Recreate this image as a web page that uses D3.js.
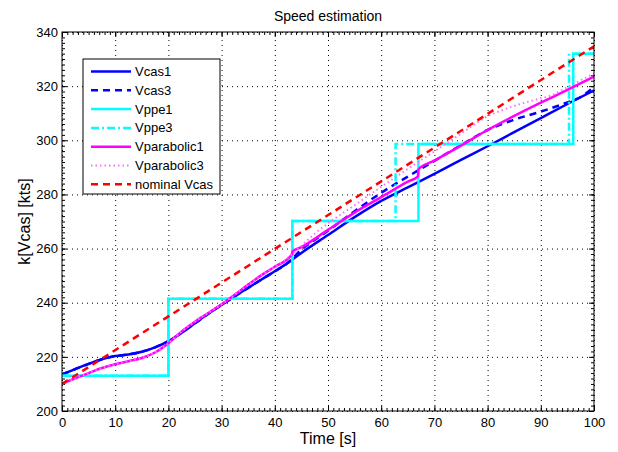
<!DOCTYPE html>
<html>
<head>
<meta charset="utf-8">
<script src="https://cdn.jsdelivr.net/npm/d3@7"></script>
<style>
body { margin: 0; background: #fff; }
text { font-family: "Liberation Sans", Arial, sans-serif; fill: #000; }
.grid line { stroke: #000; stroke-width: 1; stroke-dasharray: 1,4; }
.tick line { stroke: #000; }
.domain { display: none; }
</style>
</head>
<body>
<div id="chart"></div>
<script>
// values: time [s] / speed [kts]
var xTicks = [0, 10, 20, 30, 40, 50, 60, 70, 80, 90, 100];
var yTicks = [200, 220, 240, 260, 280, 300, 320, 340];

var vcas1T = [0, 2.5, 5, 7.5, 10, 12.5, 15, 17.5, 20, 22.5, 25, 27.5, 30, 32.5, 35, 37.5, 40, 42.5, 45, 50, 55, 60, 65, 70, 75, 80, 85, 90, 95, 100];
var vcas1V = [213.5, 215.5, 217.4, 219.1, 220.3, 220.9, 221.9, 223.5, 225.8, 228.9, 232.4, 235.9, 239.2, 242.4, 245.5, 248.6, 251.6, 254.8, 258.4, 265.0, 271.6, 277.6, 282.6, 287.6, 292.8, 297.8, 303.0, 308.2, 313.4, 318.4];

var vcas3T = [0, 2.5, 5, 7.5, 10, 12.5, 15, 17.5, 20, 22.5, 25, 27.5, 30, 32.5, 35, 37.5, 40, 42.5, 45, 47.5, 50, 55, 60, 65, 70, 75, 80, 85, 90, 95, 97.5, 100];
var vcas3V = [213.5, 215.5, 217.4, 219.1, 220.3, 220.9, 221.9, 223.5, 225.8, 228.9, 232.4, 235.9, 239.2, 242.4, 245.5, 248.6, 251.6, 254.8, 259.6, 263.2, 266.6, 273.8, 280.6, 286.6, 292.4, 298.2, 303.8, 307.6, 310.6, 314.0, 316.0, 319.8];

var vppe1T = [0, 20, 20, 43.3, 43.3, 67, 67, 96.1, 96.1, 100];
var vppe1V = [213, 213, 241.5, 241.5, 270.2, 270.2, 298.6, 298.6, 332, 332];

var vppe3T = [0, 20, 20, 43.3, 43.3, 62.7, 62.7, 95.3, 95.3, 100];
var vppe3V = [213, 213, 241.5, 241.5, 270.2, 270.2, 298.6, 298.6, 332, 332];

var vpar1T = [0, 2.5, 5, 7.5, 10, 12.5, 15, 17.5, 20, 22.5, 25, 27.5, 30, 32.5, 35, 37.5, 40, 43.2, 43.3, 45, 50, 55, 60, 65, 66.9, 67, 70, 75, 80, 85, 90, 95, 100];
var vpar1V = [210, 212.1, 214.0, 215.9, 217.3, 218.4, 219.6, 221.6, 225.0, 229.4, 233.0, 236.2, 239.4, 243.0, 246.7, 250.2, 253.3, 257.8, 258.8, 260.5, 266.9, 273.3, 279.0, 284.7, 286.7, 289.3, 292.5, 298.0, 303.8, 309.0, 313.9, 318.6, 323.5];

var vpar3T = [0, 2.5, 5, 7.5, 10, 12.5, 15, 17.5, 20, 22.5, 25, 27.5, 30, 32.5, 35, 37.5, 40, 43.2, 45, 47.5, 50, 55, 60, 65, 70, 75, 80, 83, 86, 89, 92, 95, 100];
var vpar3V = [210, 212.1, 214.0, 215.9, 217.3, 218.4, 219.6, 221.6, 225.0, 229.4, 233.0, 236.2, 239.4, 243.0, 246.7, 250.2, 253.3, 257.8, 261.0, 265.5, 269.3, 276.0, 282.8, 289.4, 295.9, 302.4, 308.9, 311.3, 313.3, 315.0, 316.6, 319.6, 324.7];

var nomT = [0, 100];
var nomV = [210, 334.7];

var margin = {top: 32, right: 24, bottom: 41, left: 62};
var width = 618 - margin.left - margin.right;
var height = 452 - margin.top - margin.bottom;

var xScale = d3.scaleLinear().domain([0, 100]).range([0, width]),
    yScale = d3.scaleLinear().domain([200, 340]).range([height, 0]);

var svg = d3.select("#chart").append("svg")
    .attr("width", 618)
    .attr("height", 452)
  .append("g")
    .attr("transform", "translate(" + margin.left + "," + margin.top + ")");

// dotted grid
svg.append("g").attr("class", "grid")
   .attr("transform", "translate(0," + height + ")")
   .call(d3.axisBottom(xScale).tickValues(xTicks).tickSize(-height).tickFormat(""));
svg.append("g").attr("class", "grid")
   .call(d3.axisLeft(yScale).tickValues(yTicks).tickSize(-width).tickFormat(""));

// minor ticks on all four sides
svg.append("g").attr("transform", "translate(0," + height + ")")
   .call(d3.axisBottom(xScale).tickValues(d3.range(0, 101, 1)).tickSize(-3).tickFormat(""));
svg.append("g")
   .call(d3.axisTop(xScale).tickValues(d3.range(0, 101, 1)).tickSize(-3).tickFormat(""));
svg.append("g")
   .call(d3.axisLeft(yScale).tickValues(d3.range(200, 341, 2)).tickSize(-3).tickFormat(""));
svg.append("g").attr("transform", "translate(" + width + ",0)")
   .call(d3.axisRight(yScale).tickValues(d3.range(200, 341, 2)).tickSize(-3).tickFormat(""));

// major ticks + labels
var xAxis = d3.axisBottom(xScale).tickValues(xTicks).tickSizeInner(-5).tickSizeOuter(0).tickPadding(7),
    yAxis = d3.axisLeft(yScale).tickValues(yTicks).tickSizeInner(-5).tickSizeOuter(0).tickPadding(4);

var xx = svg.append("g").attr("transform", "translate(0," + height + ")").call(xAxis);
var yy = svg.append("g").call(yAxis);
svg.append("g").call(d3.axisTop(xScale).tickValues(xTicks).tickSize(-5).tickFormat(""));
svg.append("g").attr("transform", "translate(" + width + ",0)")
   .call(d3.axisRight(yScale).tickValues(yTicks).tickSize(-5).tickFormat(""));
svg.selectAll(".tick text").style("font-size", "13px");

var series = [
  {name: "Vcas1", t: vcas1T, v: vcas1V, color: "#0000ff", dash: null, w: 2.5, smooth: true},
  {name: "Vcas3", t: vcas3T, v: vcas3V, color: "#0000ff", dash: "7,5", w: 2.5, smooth: true},
  {name: "Vppe1", t: vppe1T, v: vppe1V, color: "#00ffff", dash: null, w: 2.5, smooth: false},
  {name: "Vppe3", t: vppe3T, v: vppe3V, color: "#00ffff", dash: "8,3,2,3", w: 2.5, smooth: false},
  {name: "Vparabolic1", t: vpar1T, v: vpar1V, color: "#ff00ff", dash: null, w: 2.5, smooth: true},
  {name: "Vparabolic3", t: vpar3T, v: vpar3V, color: "#ff70ff", dash: "1.5,3", w: 2, smooth: true},
  {name: "nominal Vcas", t: nomT, v: nomV, color: "#ff0000", dash: "7,5", w: 2.5, smooth: false}
];

svg.append("defs").append("clipPath").attr("id", "plotclip")
   .append("rect").attr("width", width).attr("height", height);

var lines = svg.append("g").attr("clip-path", "url(#plotclip)");
series.forEach(function(s) {
  var pts = s.t.map(function(t, i) { return [t, s.v[i]]; });
  var line = d3.line()
      .x(function(d) { return xScale(d[0]); })
      .y(function(d) { return yScale(d[1]); })
      .curve(s.smooth ? d3.curveMonotoneX : d3.curveLinear);
  lines.append("path")
       .attr("d", line(pts))
       .attr("fill", "none")
       .attr("stroke", s.color)
       .attr("stroke-width", s.w)
       .attr("stroke-dasharray", s.dash);
});

// frame
svg.append("rect").attr("width", width).attr("height", height)
   .attr("fill", "none").attr("stroke", "#000").attr("stroke-width", 1);

// legend
var lg = svg.append("g").attr("transform", "translate(21,27)");
lg.append("rect").attr("width", 137).attr("height", 135)
  .attr("fill", "#fff").attr("stroke", "#000").attr("stroke-width", 1);
series.forEach(function(s, i) {
  var yy0 = 12.5 + i * 18.8;
  lg.append("line").attr("x1", 8).attr("x2", 48).attr("y1", yy0).attr("y2", yy0)
    .attr("stroke", s.color).attr("stroke-width", s.w)
    .attr("stroke-dasharray", s.dash);
  lg.append("text").attr("x", 52).attr("y", yy0 + 4.5)
    .style("font-size", "13px").text(s.name);
});

// titles
svg.append("text").attr("x", width / 2).attr("y", -11)
   .style("text-anchor", "middle").style("font-size", "14px").text("Speed estimation");
svg.append("text").attr("x", width / 2).attr("y", height + 33)
   .style("text-anchor", "middle").style("font-size", "16px").text("Time [s]");
svg.append("text").attr("transform", "rotate(-90)")
   .attr("x", -height / 2).attr("y", -32)
   .style("text-anchor", "middle").style("font-size", "16px").text("k[Vcas] [kts]");
</script>
</body>
</html>
